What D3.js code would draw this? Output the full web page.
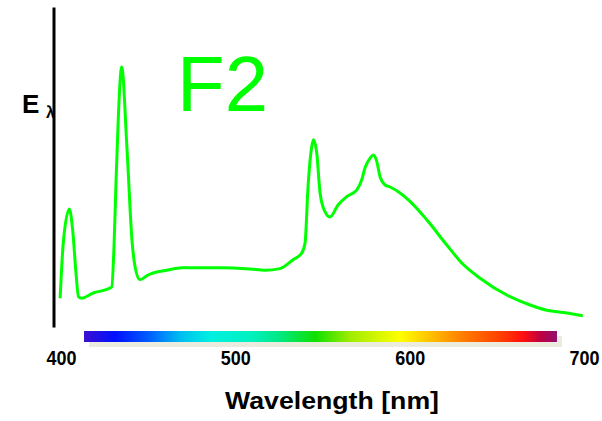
<!DOCTYPE html>
<html>
<head>
<meta charset="utf-8">
<script src="https://cdn.jsdelivr.net/npm/d3@7"></script>
<style>
  body { margin: 0; background: #fff; }
  text { font-family: "Liberation Sans", Arial, sans-serif; }
</style>
</head>
<body>
<div id="chart"></div>
<script>
// F2 fluorescent illuminant - spectral power
var wavelengths = [399.5, 401.3, 404.8, 406.7, 408.6, 410, 411.9, 418.5, 426.2, 429.1, 430.4, 431.6,
  432.9, 434.8, 437.9, 440.7, 442.5, 445.3, 449.9, 460.8, 469.4, 479.7, 491.2, 508.4, 517, 525.6,
  533.1, 538.1, 540, 541.7, 543.8, 544.8, 546.7, 548.6, 550.3, 554.3, 558.9, 563.9, 569.6, 572.5,
  574.4, 577.3, 579.2, 581.1, 583, 585.9, 588.8, 594.5, 600.2, 609.8, 621.3, 629.9, 640.4, 655.7,
  669.1, 678.7, 688.2, 699.3];
var power = [3.6, 10.5, 14.75, 12.1, 6.75, 3.8, 3.6, 4.25, 4.7, 5.0, 10.0, 18.4,
  26.3, 32.5, 22.1, 10.9, 7.5, 5.9, 6.5, 7.1, 7.4, 7.4, 7.4, 7.25, 7.1, 7.3,
  8.4, 9.25, 10.5, 17.5, 22.5, 23.4, 21.75, 16.75, 15, 13.75, 15.25, 16.3, 17.1, 18.4,
  19.9, 21.1, 21.5, 20.7, 18.8, 17.75, 17.5, 16.75, 15.7, 13.4, 10.25, 8.0, 6.1, 4.0,
  2.75, 2.1, 1.8, 1.4];

var xTicks = [400, 500, 600, 700];

// colour bar under the plot
var specWl = [413.2, 431, 451, 469, 486, 509, 526, 546, 566, 594.5, 612, 629.5, 652, 665, 675, 684.5];
var specCol = ["#3c10d0", "#0010ff", "#0060ff", "#00c0f0", "#00f0e0", "#00f0c0", "#00e880", "#10e000",
  "#a0ec00", "#ffff00", "#ffc000", "#ff8000", "#ff4000", "#ff1010", "#c00040", "#901070"];

var width = 602, height = 421;

var svg = d3.select("#chart").append("svg")
  .attr("width", width)
  .attr("height", height);

var x = d3.scaleLinear().domain([400, 700]).range([61, 584]);
var y = d3.scaleLinear().domain([0, 40]).range([327, 7]);

// spectrum bar with shadow
var grad = svg.append("defs").append("linearGradient")
  .attr("id", "spec")
  .attr("gradientUnits", "userSpaceOnUse")
  .attr("x1", x(specWl[0])).attr("x2", x(specWl[specWl.length - 1]))
  .attr("y1", 0).attr("y2", 0);
grad.selectAll("stop").data(specWl).enter().append("stop")
  .attr("offset", function(d) { return (d - specWl[0]) / (specWl[specWl.length - 1] - specWl[0]); })
  .attr("stop-color", function(d, i) { return specCol[i]; });

var x0 = x(specWl[0]), x1 = x(specWl[specWl.length - 1]);
svg.append("rect")
  .attr("x", x0 + 5).attr("y", 336)
  .attr("width", x1 - x0).attr("height", 11)
  .attr("fill", "#ecebe0");
svg.append("rect")
  .attr("x", x0).attr("y", 331)
  .attr("width", x1 - x0).attr("height", 11)
  .attr("fill", "url(#spec)");

// y axis: just the line
var yAxis = svg.append("g")
  .attr("transform", "translate(53.5,0)")
  .call(d3.axisLeft(y).tickValues([]).tickSizeOuter(0));
yAxis.select(".domain").attr("stroke", "#000").attr("stroke-width", 3);

// x axis labels
var xAxis = svg.append("g")
  .attr("transform", "translate(0,351)")
  .call(d3.axisBottom(x).tickValues(xTicks).tickSize(0).tickPadding(0));
xAxis.select(".domain").remove();
xAxis.selectAll("text")
  .attr("font-family", "Liberation Sans, Arial, sans-serif")
  .attr("font-size", 20)
  .attr("font-weight", "bold")
  .attr("fill", "#000")
  .attr("textLength", 30)
  .attr("lengthAdjust", "spacingAndGlyphs");

svg.append("text")
  .attr("x", 332).attr("y", 409)
  .attr("text-anchor", "middle")
  .attr("font-size", 23.5)
  .attr("font-weight", "bold")
  .attr("textLength", 214)
  .attr("lengthAdjust", "spacingAndGlyphs")
  .text("Wavelength [nm]");

// E lambda
var eLab = svg.append("text")
  .attr("x", 22).attr("y", 113)
  .attr("font-weight", "bold");
eLab.append("tspan").attr("font-size", 26).text("E");
eLab.append("tspan").attr("x", 46).attr("y", 118).attr("font-size", 16).text("λ");

// the curve
var pts = wavelengths.map(function(w, i) { return [w, power[i]]; });
var line = d3.line()
  .x(function(d) { return x(d[0]); })
  .y(function(d) { return y(d[1]); })
  .curve(d3.curveMonotoneX);

svg.append("path")
  .datum(pts)
  .attr("d", line)
  .attr("fill", "none")
  .attr("stroke", "#00ff00")
  .attr("stroke-width", 3)
  .attr("stroke-linejoin", "round");

svg.append("text")
  .attr("x", 177).attr("y", 111)
  .attr("font-size", 78)
  .attr("fill", "#00ff00")
  .text("F2");
</script>
</body>
</html>
